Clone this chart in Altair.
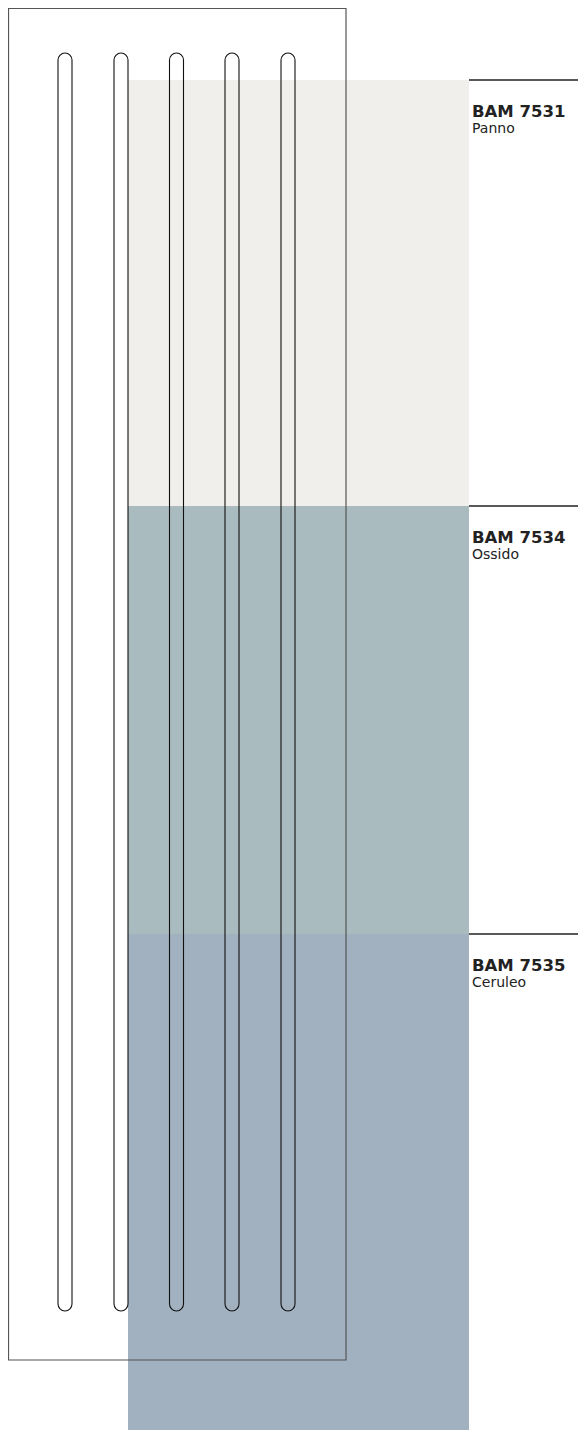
import altair as alt
import pandas as pd

# ---- data (page pixel units) ----
codes = ["BAM 7531", "BAM 7534", "BAM 7535"]
names = ["Panno", "Ossido", "Ceruleo"]
colors = ["#F0EFEB", "#AABBBF", "#A1B1BF"]
band_top = [80, 506, 934]
band_bottom = [506, 934, 1438]
band_left = [128, 128, 128]
band_right = [469, 469, 469]
leader_end = [586, 586, 586]

tube_center = [65, 121, 176.5, 232, 288]
tube_half = [7, 7, 7, 7, 7]
tube_top = [53, 53, 53, 53, 53]
tube_bottom = [1311, 1311, 1311, 1311, 1311]

frame_x = [8.5]
frame_x2 = [346]
frame_y = [8.5]
frame_y2 = [1360]

bands = pd.DataFrame({
    "code": codes, "name": names, "top": band_top, "bottom": band_bottom,
    "left": band_left, "right": band_right, "end": leader_end,
})
bands["code_y"] = bands["top"] + 37
bands["name_y"] = bands["top"] + 53
bands["text_x"] = bands["right"] + 3

tubes = pd.DataFrame({"c": tube_center, "h": tube_half, "t": tube_top, "b": tube_bottom})
tubes["l"] = tubes["c"] - tubes["h"]
tubes["r"] = tubes["c"] + tubes["h"]

frame = pd.DataFrame({"x": frame_x, "x2": frame_x2, "y": frame_y, "y2": frame_y2})

W, H = 570, 1422
xs = alt.Scale(domain=[8, 8 + W], nice=False, zero=False, clamp=True)
ys = alt.Scale(domain=[8, 8 + H], nice=False, zero=False, reverse=True, clamp=True)

band_layer = alt.Chart(bands).mark_rect().encode(
    x=alt.X("left:Q", scale=xs, axis=None), x2="right:Q",
    y=alt.Y("top:Q", scale=ys, axis=None), y2="bottom:Q",
    color=alt.Color("name:N", scale=alt.Scale(domain=names, range=colors), legend=None),
)

frame_layer = alt.Chart(frame).mark_rect(filled=False, stroke="#555555", strokeWidth=1.2).encode(
    x=alt.X("x:Q", scale=xs, axis=None), x2="x2:Q",
    y=alt.Y("y:Q", scale=ys, axis=None), y2="y2:Q",
)

tube_layer = alt.Chart(tubes).mark_rect(filled=False, stroke="#111111", strokeWidth=1.1,
                                        cornerRadius=7).encode(
    x=alt.X("l:Q", scale=xs, axis=None), x2="r:Q",
    y=alt.Y("t:Q", scale=ys, axis=None), y2="b:Q",
)

leader_layer = alt.Chart(bands).mark_rule(color="#222222", strokeWidth=1.3).encode(
    x=alt.X("right:Q", scale=xs, axis=None), x2="end:Q",
    y=alt.Y("top:Q", scale=ys, axis=None),
)

code_layer = alt.Chart(bands).mark_text(
    align="left", baseline="alphabetic", font="DejaVu Sans", fontWeight="bold",
    fontSize=16.5, color="#222222"
).encode(
    x=alt.X("text_x:Q", scale=xs, axis=None),
    y=alt.Y("code_y:Q", scale=ys, axis=None),
    text="code:N",
)

name_layer = alt.Chart(bands).mark_text(
    align="left", baseline="alphabetic", font="DejaVu Sans",
    fontSize=14, color="#222222"
).encode(
    x=alt.X("text_x:Q", scale=xs, axis=None),
    y=alt.Y("name_y:Q", scale=ys, axis=None),
    text="name:N",
)

chart = alt.layer(
    band_layer, frame_layer, tube_layer, leader_layer, code_layer, name_layer
).properties(
    width=W, height=H, padding=0, autosize=alt.AutoSizeParams(type="none")
).configure_view(stroke=None)

chart.save("out.html", embed_options={"renderer": "svg", "actions": False})
